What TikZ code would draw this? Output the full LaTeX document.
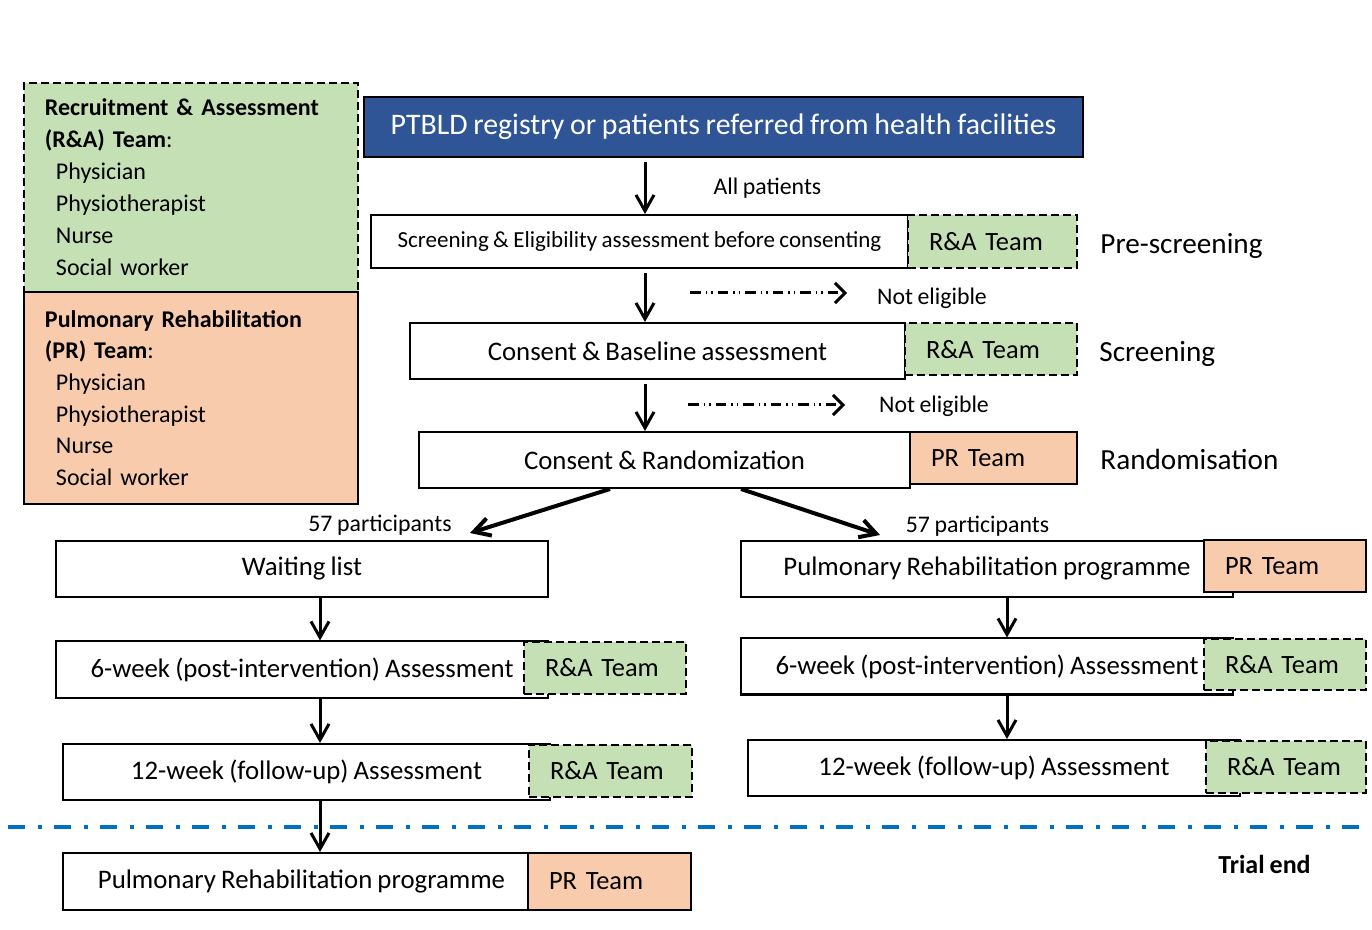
\documentclass[tikz,border=0pt]{standalone}
\usepackage{fontspec}
\setmainfont{Carlito}[WordSpace=0.85]
\usetikzlibrary{arrows.meta,positioning,calc}
\definecolor{ragreen}{HTML}{C5E0B4}
\definecolor{prorange}{HTML}{F8CBAD}
\definecolor{regblue}{HTML}{2F5597}
\definecolor{endblue}{HTML}{0070C0}

\begin{document}
\begin{tikzpicture}[x=0.5pt, y=-0.5pt,
    stage/.style={draw, fill=white, line width=1pt, minimum height=28pt, font=\fontsize{13.4}{15}\selectfont},
    rateam/.style={draw, fill=ragreen, line width=1pt, dash pattern=on 4pt off 2pt, inner xsep=10.5pt, text width=#1, align=left, minimum height=26pt, font=\fontsize{13.2}{15}\selectfont},
    prteam/.style={rateam=#1, fill=prorange, solid},
    note/.style={inner sep=0pt, font=\fontsize{11.9}{13}\selectfont},
    phase/.style={inner sep=0pt, anchor=west, font=\fontsize{14.6}{17}\selectfont},
    flow/.style={line width=1.5pt, -{Straight Barb[length=8pt,width=9pt]}},
    excl/.style={line width=1.5pt, dash pattern=on 5.25pt off 2.5pt on 0.75pt off 2pt on 0.75pt off 2.5pt, -{Straight Barb[length=5pt,width=10pt]}}]
    \useasboundingbox (0,0) rectangle (1372,930);

    \node[draw, fill=ragreen, line width=1pt, dash pattern=on 4pt off 2pt, anchor=north west, inner xsep=10.5pt, text width=146pt, minimum height=104.5pt, align=left, font=\fontsize{12}{16}\selectfont] (ralegend) at (23,82)
        {\textbf{Recruitment \& Assessment}\\\textbf{(R\&A) Team}:\\\hspace*{5.5pt}Physician\\\hspace*{5.5pt}Physiotherapist\\\hspace*{5.5pt}Nurse\\\hspace*{5.5pt}Social worker};
    \node[draw, fill=prorange, line width=1pt, anchor=north west, inner xsep=10.5pt, text width=146pt, minimum height=106pt, align=left, font=\fontsize{12}{15.8}\selectfont] (prlegend) at (23,291)
        {\textbf{Pulmonary Rehabilitation}\\\textbf{(PR) Team}:\\\hspace*{5.5pt}Physician\\\hspace*{5.5pt}Physiotherapist\\\hspace*{5.5pt}Nurse\\\hspace*{5.5pt}Social worker};

    \node[stage, fill=regblue, text=white, minimum width=359.5pt, minimum height=30pt, font=\fontsize{14.9}{17}\selectfont] (registry) at (723.5,127) {PTBLD registry or patients referred from health facilities};
    \node[stage, minimum width=268.5pt, minimum height=26.5pt, font=\fontsize{11.5}{13}\selectfont] (screen) at (639.5,241.5) {Screening \& Eligibility assessment before consenting};
    \node[rateam=63.5pt, minimum height=26.5pt] (screenteam) at (992.5,241.5) {R\&A Team};
    \node[stage, minimum width=247.5pt] (baseline) at (657.5,351) {Consent \& Baseline assessment};
    \node[rateam=65pt] (baseteam) at (991,349.5) {R\&A Team};
    \node[stage, minimum width=245.5pt] (random) at (664.5,460) {Consent \& Randomization};
    \node[prteam=62.5pt] (randteam) at (993.5,458) {PR Team};

    \node[stage, minimum width=246pt] (wait) at (302,569) {Waiting list};
    \node[stage, minimum width=246pt] (wsix) at (302,669.5) {6-week (post-intervention) Assessment};
    \node[rateam=60pt] (wsixteam) at (605,668) {R\&A Team};
    \node[stage, minimum width=243.5pt] (wtwelve) at (306.5,772) {12-week (follow-up) Assessment};
    \node[rateam=60.5pt] (wtwelveteam) at (610.5,770.5) {R\&A Team};
    \node[stage, minimum width=238.5pt, minimum height=28.5pt] (wpr) at (301.5,881.5) {Pulmonary Rehabilitation programme};
    \node[prteam=60.5pt, minimum height=28.5pt] (wprteam) at (609.5,881.5) {PR Team};

    \node[stage, minimum width=246pt] (ipr) at (987,569) {Pulmonary Rehabilitation programme};
    \node[prteam=60pt] (iprteam) at (1285,566.5) {PR Team};
    \node[stage, minimum width=246pt] (isix) at (987,666.5) {6-week (post-intervention) Assessment};
    \node[rateam=60pt, minimum height=25.5pt] (isixteam) at (1285,664.5) {R\&A Team};
    \node[stage, minimum width=246pt] (itwelve) at (994,768) {12-week (follow-up) Assessment};
    \node[rateam=59pt] (itwelveteam) at (1286,767) {R\&A Team};

    \node[note] (allp) at (767.5,188) {All patients};
    \node[note] (ne1) at (932,298) {Not eligible};
    \node[note] (ne2) at (934,406) {Not eligible};
    \node[note] (wcount) at (380,525) {57 participants};
    \node[note] (icount) at (977.5,526) {57 participants};
    \node[phase] (prescr) at (1100,246) {Pre-screening};
    \node[phase] (scr) at (1099,354) {Screening};
    \node[phase] (rnd) at (1100,459) {Randomisation};
    \node[inner sep=0pt, font=\bfseries\fontsize{13}{15}\selectfont] (trialend) at (1264.5,864) {Trial end};

    \coordinate (mainx) at (645,0);
    \coordinate (leftx) at (320,0);
    \coordinate (rightx) at (1007,0);
    \coordinate (wtip) at (470,533);
    \coordinate (itip) at (880,535);
    \coordinate (ex1a) at (690,293);
    \coordinate (ex1b) at (847,293);
    \coordinate (ex2a) at (688,405);
    \coordinate (ex2b) at (845,405);

    \draw[endblue, line width=2pt, dash pattern=on 8.5pt off 6.5pt on 2pt off 6pt] (8,827) -- (1372,827);

    \draw[flow, shorten <=2pt] (registry.south -| mainx) -- (screen.north -| mainx);
    \draw[flow, shorten <=2pt] (screen.south -| mainx) -- (baseline.north -| mainx);
    \draw[flow, shorten <=2pt] (baseline.south -| mainx) -- (random.north -| mainx);
    \draw[excl] (ex1a) -- (ex1b);
    \draw[excl] (ex2a) -- (ex2b);
    \draw[flow, line width=2pt] ([xshift=-27.25pt]random.south) -- (wtip);
    \draw[flow, line width=2pt] ([xshift=38.25pt]random.south) -- (itip);

    \draw[flow] (wait.south -| leftx) -- (wsix.north -| leftx);
    \draw[flow] (wsix.south -| leftx) -- (wtwelve.north -| leftx);
    \draw[flow] (wtwelve.south -| leftx) -- (wpr.north -| leftx);
    \draw[flow] (ipr.south -| rightx) -- (isix.north -| rightx);
    \draw[flow] (isix.south -| rightx) -- (itwelve.north -| rightx);
\end{tikzpicture}
\end{document}
